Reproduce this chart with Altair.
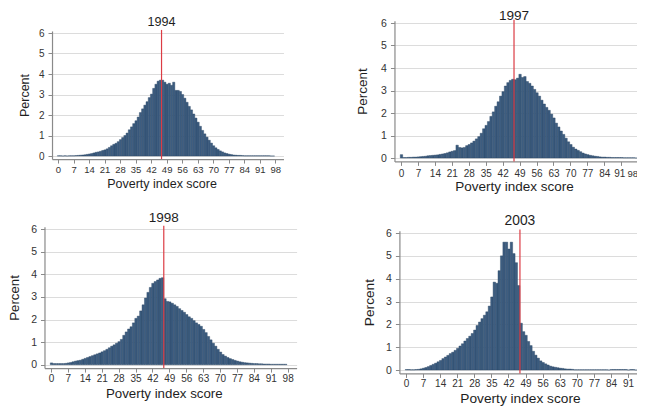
import altair as alt
import pandas as pd

FONT = "Liberation Sans"
years = ["1994", "1997", "1998", "2003"]
poverty_line = 46.7
x_ticks = list(range(0, 99, 7))
y_ticks = [0, 1, 2, 3, 4, 5, 6]
scores = list(range(0, 98))

pct_1994 = [0.01, 0.01, 0.0, 0.01, 0.0, 0.01, 0.01, 0.01, 0.02, 0.03,
            0.04, 0.05, 0.06, 0.08, 0.1, 0.12, 0.15, 0.18, 0.2, 0.23,
            0.27, 0.3, 0.35, 0.42, 0.5, 0.57, 0.62, 0.7, 0.8, 0.9,
            1.0, 1.12, 1.28, 1.42, 1.58, 1.72, 1.9, 2.12, 2.3, 2.48,
            2.65, 2.85, 3.02, 3.3, 3.5, 3.65, 3.7, 3.7, 3.6, 3.5,
            3.55, 3.45, 3.6, 3.2, 3.2, 3.15, 3.0, 2.82, 2.62, 2.42,
            2.25, 2.05, 1.85, 1.65, 1.45, 1.25, 1.08, 0.92, 0.77, 0.63,
            0.5, 0.4, 0.32, 0.25, 0.2, 0.15, 0.12, 0.09, 0.07, 0.05,
            0.04, 0.03, 0.03, 0.02, 0.01, 0.01, 0.01, 0.01, 0.01, 0.01,
            0.01, 0.01, 0.01, 0.01, 0.01, 0.01, 0.0, 0.0]

pct_1997 = [0.15, 0.02, 0.02, 0.03, 0.03, 0.04, 0.04, 0.05, 0.06, 0.07,
            0.08, 0.1, 0.11, 0.12, 0.13, 0.14, 0.16, 0.18, 0.2, 0.23,
            0.27, 0.3, 0.33, 0.57, 0.47, 0.45, 0.47, 0.55, 0.6, 0.67,
            0.75, 0.85, 0.95, 1.1, 1.3, 1.45, 1.62, 1.85, 2.05, 2.3,
            2.5, 2.75, 2.95, 3.2, 3.35, 3.45, 3.5, 3.48, 3.55, 3.72,
            3.58, 3.62, 3.4, 3.32, 3.2, 3.05, 2.9, 2.75, 2.57, 2.4,
            2.25, 2.12, 1.95, 1.78, 1.55, 1.38, 1.2, 1.05, 0.88, 0.72,
            0.6, 0.48, 0.4, 0.34, 0.28, 0.22, 0.18, 0.15, 0.12, 0.1,
            0.08, 0.07, 0.05, 0.04, 0.04, 0.03, 0.03, 0.02, 0.02, 0.02,
            0.02, 0.02, 0.01, 0.01, 0.01, 0.01, 0.01, 0.0]

pct_1998 = [0.08, 0.05, 0.05, 0.05, 0.05, 0.05, 0.06, 0.08, 0.1, 0.13,
            0.16, 0.18, 0.2, 0.24, 0.28, 0.32, 0.36, 0.4, 0.44, 0.48,
            0.52, 0.57, 0.62, 0.68, 0.75, 0.82, 0.88, 0.95, 1.02, 1.12,
            1.3, 1.45, 1.58, 1.68, 1.85, 2.05, 2.15, 2.38, 2.65, 2.95,
            3.2, 3.42, 3.6, 3.68, 3.75, 3.82, 3.85, 2.92, 2.8, 2.78,
            2.72, 2.65, 2.58, 2.48, 2.4, 2.32, 2.22, 2.12, 2.05, 1.95,
            1.85, 1.78, 1.7, 1.56, 1.42, 1.25, 1.1, 0.95, 0.82, 0.68,
            0.56, 0.45, 0.38, 0.32, 0.27, 0.23, 0.19, 0.16, 0.13, 0.11,
            0.09, 0.08, 0.07, 0.06, 0.05, 0.05, 0.04, 0.04, 0.03, 0.03,
            0.03, 0.02, 0.02, 0.02, 0.02, 0.02, 0.02, 0.02]

pct_2003 = [0.02, 0.02, 0.01, 0.01, 0.02, 0.03, 0.05, 0.08, 0.11, 0.15,
            0.2, 0.25, 0.3, 0.36, 0.42, 0.5, 0.57, 0.64, 0.72, 0.78,
            0.86, 0.95, 1.05, 1.15, 1.27, 1.38, 1.48, 1.6, 1.75, 1.95,
            2.1, 2.25, 2.4, 2.55, 2.8, 3.2, 3.85, 3.8, 4.35, 5.0,
            5.6, 5.6, 5.3, 5.6, 5.1, 4.7, 3.7, 2.05, 1.68, 1.52,
            1.25, 1.07, 0.82, 0.65, 0.52, 0.4, 0.33, 0.27, 0.22, 0.17,
            0.14, 0.12, 0.1, 0.08, 0.07, 0.05, 0.04, 0.04, 0.03, 0.01,
            0.01, 0.01, 0.01, 0.01, 0.01, 0.01, 0.01, 0.01, 0.01, 0.01,
            0.01, 0.01, 0.01, 0.0, 0.02, 0.02, 0.02, 0.02, 0.02, 0.02,
            0.02, 0.0, 0.02, 0.02, 0.0, 0.0, 0.0, 0.0]

series = [pct_1994, pct_1997, pct_1998, pct_2003]

# ---- layout (pixel positions in the page) ----
W, H = 629, 398
M = 8
XDOM = [-2.7, 101.7]
YDOM = [-0.15, 6.1]
BIN_SHIFT = -0.3
BAR_FILL = "#3d5d80"
BAR_STROKE = "#27425f"
LINE_RED = "#dc3c44"

layout = [
    dict(x0=58, xu=2.217, y0=156, yu=20.5, lab=9.5, ylab=10, title=12.5, year=12.6, ytx=-28, xty=24, xlp=1, ty=6.53, edge=False),
    dict(x0=401, xu=2.42, y0=158, yu=22.5, lab=10, ylab=10.5, title=13.5, year=13.6, ytx=-32, xty=25.3, xlp=3, ty=6.33, edge=True),
    dict(x0=51, xu=2.415, y0=364.7, yu=22.6, lab=10, ylab=10.5, title=13.3, year=13.5, ytx=-29.5, xty=25, xlp=1, ty=6.5, edge=False),
    dict(x0=406, xu=2.44, y0=370, yu=22.83, lab=10, ylab=10.5, title=13.7, year=13.8, ytx=-30, xty=25.3, xlp=1, ty=6.53, edge=False),
]


def panel(i):
    L = layout[i]
    xr = [L["x0"] + XDOM[0] * L["xu"] - M, L["x0"] + XDOM[1] * L["xu"] - M]
    yr = [L["y0"] - YDOM[0] * L["yu"] - M, L["y0"] - YDOM[1] * L["yu"] - M]
    xs = alt.Scale(domain=XDOM, range=xr, nice=False, zero=False)
    ys = alt.Scale(domain=YDOM, range=yr, nice=False, zero=False)
    label_size = L["lab"]
    extra = {}
    if L["edge"]:
        extra = dict(
            labelAlign=alt.ExprRef(expr="datum.value >= 98 ? 'right' : 'center'"),
            labelOffset=alt.ExprRef(expr="datum.value >= 98 ? -0.5 : (datum.value == 91 ? -2 : 0)"),
        )
        label_size = alt.ExprRef(expr="datum.value >= 98 ? 9.5 : %s" % L["lab"])
    xaxis = alt.Axis(
        orient="bottom", offset=yr[0] - H, values=x_ticks, title="Poverty index score",
        grid=False, tickSize=4, labelPadding=L["xlp"], labelFontSize=label_size,
        titleFontSize=L["title"], titleX=L["x0"] + poverty_line * L["xu"] - M,
        titleY=L["xty"], titleBaseline="middle", labelFlush=False, labelOverlap=False,
        domainWidth=1.2, **extra,
    )
    yaxis = alt.Axis(
        orient="left", offset=-xr[0], values=y_ticks, title="Percent",
        grid=True, gridColor="#dcdcdc", gridWidth=1, tickSize=4, labelPadding=4,
        labelFontSize=L["ylab"], titleFontSize=L["title"], titleX=L["ytx"],
        titleBaseline="middle", labelOverlap=False, domainWidth=1.2,
    )
    vals = series[i]
    bars_df = pd.DataFrame({
        "b0": [s + BIN_SHIFT for s in scores],
        "b1": [s + 1 + BIN_SHIFT for s in scores],
        "pct": vals,
        "base": [0.0] * len(vals),
    })
    line_df = pd.DataFrame({"pl": [poverty_line], "lo": [YDOM[0]], "hi": [6.15]})
    title_df = pd.DataFrame({"pl": [poverty_line], "ty": [L["ty"]], "year": [years[i]]})

    bars = alt.Chart(bars_df).mark_bar(
        fill=BAR_FILL, stroke=BAR_STROKE, strokeWidth=0.4
    ).encode(
        x=alt.X("b0:Q", scale=xs, axis=xaxis),
        x2="b1:Q",
        y=alt.Y("pct:Q", scale=ys, axis=yaxis),
        y2="base:Q",
    )
    rule = alt.Chart(line_df).mark_rule(color=LINE_RED, strokeWidth=1.2).encode(
        x=alt.X("pl:Q", scale=xs, axis=xaxis),
        y=alt.Y("lo:Q", scale=ys, axis=yaxis),
        y2="hi:Q",
    )
    text = alt.Chart(title_df).mark_text(
        font=FONT, fontSize=L["year"], color="#1e1e1e", baseline="middle", align="center"
    ).encode(
        x=alt.X("pl:Q", scale=xs, axis=xaxis),
        y=alt.Y("ty:Q", scale=ys, axis=yaxis),
        text="year:N",
    )
    return alt.layer(bars, rule, text)


chart = alt.layer(*[panel(i) for i in range(4)]).resolve_scale(
    x="independent", y="independent"
).resolve_axis(
    x="independent", y="independent"
).properties(
    width=W, height=H, padding=0, autosize=alt.AutoSizeParams(type="none")
).configure_view(
    strokeWidth=0
).configure_axis(
    labelFont=FONT, titleFont=FONT, labelColor="#333333", titleColor="#1e1e1e",
    domainColor="#8a8a8a", tickColor="#8a8a8a", titleFontWeight="normal",
)

chart.save("out.html", embed_options={"renderer": "svg", "actions": False})
